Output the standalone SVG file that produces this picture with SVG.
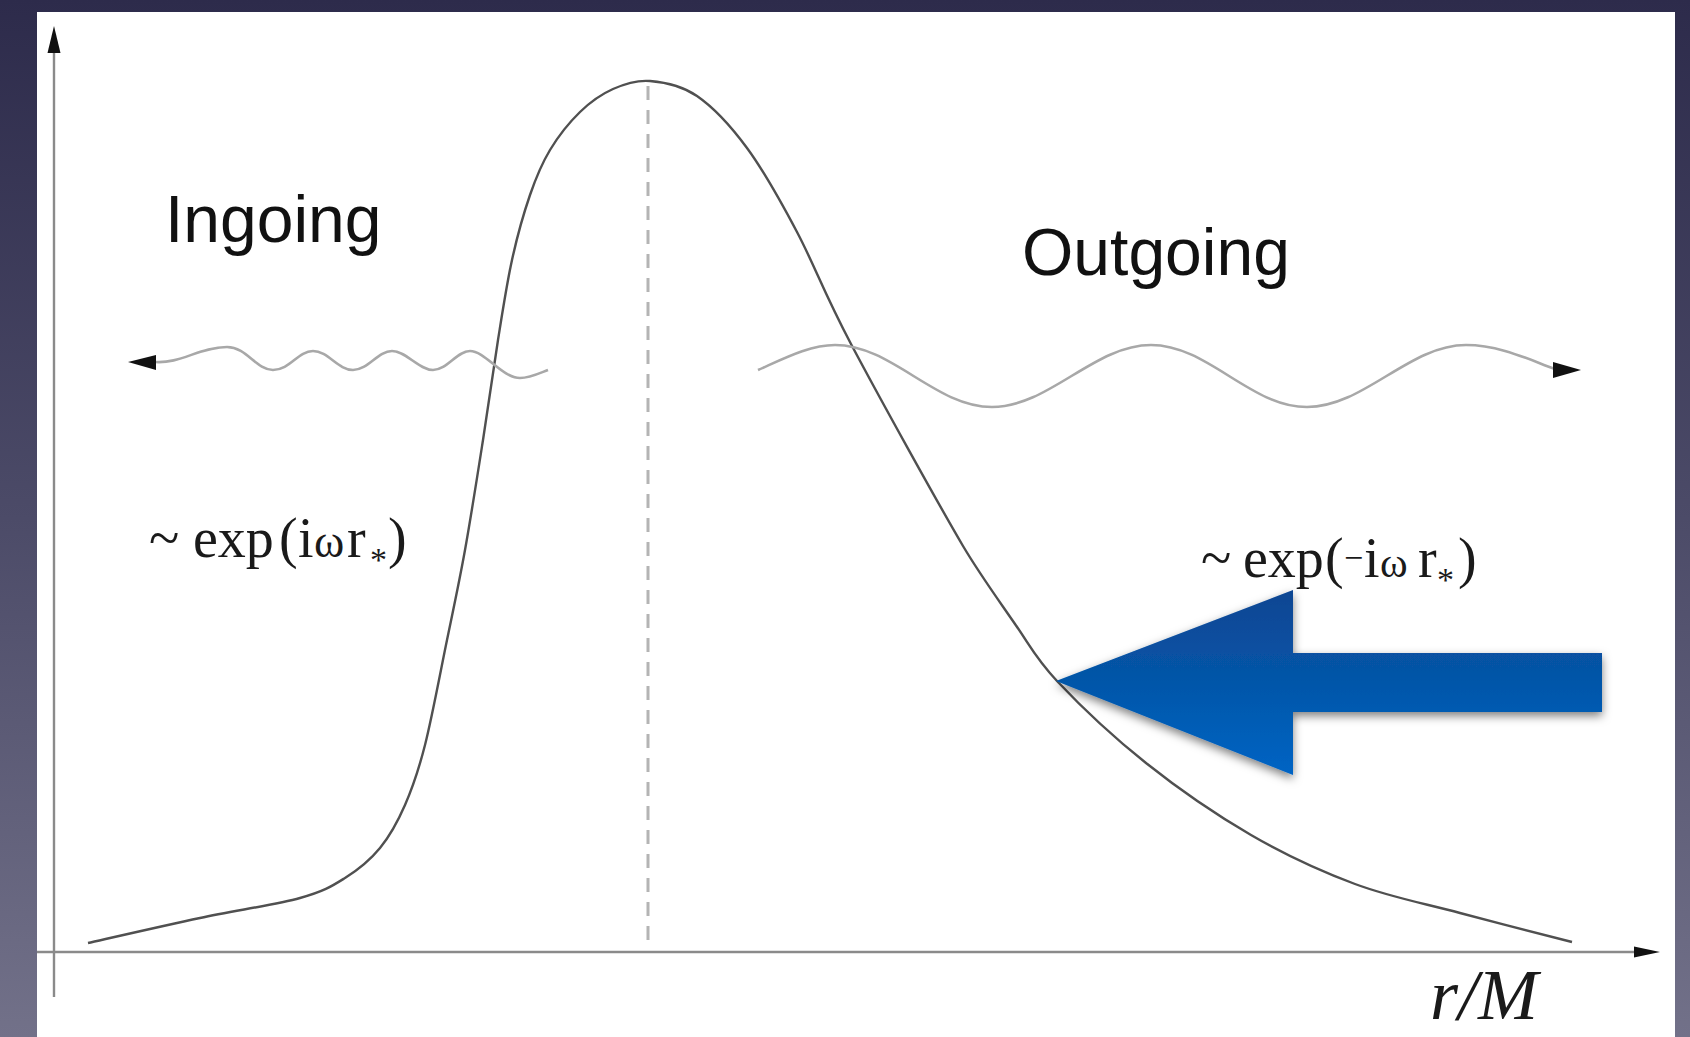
<svg xmlns="http://www.w3.org/2000/svg" width="1690" height="1037" viewBox="0 0 1690 1037">
  <defs>
    <linearGradient id="bg" x1="0" y1="0" x2="0" y2="1">
      <stop offset="0" stop-color="#2d2b4b"/>
      <stop offset="0.5" stop-color="#4c4b68"/>
      <stop offset="1" stop-color="#727189"/>
    </linearGradient>
    <linearGradient id="blue" x1="0" y1="590" x2="0" y2="775" gradientUnits="userSpaceOnUse">
      <stop offset="0" stop-color="#0b4592"/>
      <stop offset="0.5" stop-color="#0556a9"/>
      <stop offset="1" stop-color="#0064c4"/>
    </linearGradient>
    <filter id="shadow" x="-10%" y="-20%" width="120%" height="150%">
      <feDropShadow dx="0" dy="4" stdDeviation="5" flood-color="#000" flood-opacity="0.5"/>
    </filter>
    <style>
      .axis { stroke: #8a8a8a; stroke-width: 2.4; fill: none; }
      .head { fill: #111; }
      .curve { stroke: #505050; stroke-width: 2.4; fill: none; }
      .wave { stroke: #a8a8a8; stroke-width: 2.6; fill: none; }
      .dash { stroke: #b4b4b4; stroke-width: 3; stroke-dasharray: 14 10; fill: none; }
      .sans { font-family: "Liberation Sans", Arial, sans-serif; fill: #111; }
      .serif { font-family: "Liberation Serif", "Times New Roman", serif; fill: #1a1a1a; }
    </style>
  </defs>

  <rect x="0" y="0" width="1690" height="1037" fill="url(#bg)"/>
  <rect x="37" y="12" width="1638" height="1030" fill="#ffffff"/>

  <g id="axes">
    <line class="axis" x1="54" y1="50" x2="54" y2="997"/>
    <polygon class="head" points="54,26 47.5,53 60.5,53"/>
    <line class="axis" x1="37" y1="952" x2="1636" y2="952"/>
    <polygon class="head" points="1660,952 1634,946.5 1634,957.5"/>
  </g>

  <g id="peak-line">
    <line class="dash" x1="648" y1="86" x2="648" y2="945"/>
  </g>

  <g id="potential">
    <path class="curve" d="M 88 943 C 106.7 938.8, 164.7 925.5, 200 918 C 235.3 910.5, 275.8 904.7, 300 898 C 324.2 891.3, 331.7 886.3, 345 878 C 358.3 869.7, 370 860.2, 380 848 C 390 835.8, 397.5 822.2, 405 805 C 412.5 787.8, 418 772.5, 425 745 C 432 717.5, 440.3 672.5, 447 640 C 453.7 607.5, 459 583.3, 465 550 C 471 516.7, 477.5 475, 483 440 C 488.5 405, 493.2 370, 498 340 C 502.8 310, 506.7 284.2, 512 260 C 517.3 235.8, 523.7 213.3, 530 195 C 536.3 176.7, 541.7 163.8, 550 150 C 558.3 136.2, 569.5 122.2, 580 112 C 590.5 101.8, 601.3 94.2, 613 89 C 624.7 83.8, 636 79.8, 650 81 C 664 82.2, 680.8 84.8, 697 96 C 713.2 107.2, 730.3 125.3, 747 148 C 763.7 170.7, 779.7 199.3, 797 232 C 814.3 264.7, 823.3 291.7, 851 344 C 878.7 396.3, 935.7 499.3, 963 546 C 980.5 575.5, 1000 602, 1015 624 C 1030.7 646.5, 1035.2 657.8, 1057 681 C 1078.8 704.2, 1113.7 737.3, 1146 763 C 1178.3 788.7, 1216.2 814.8, 1251 835 C 1285.8 855.2, 1320.2 871, 1355 884 C 1389.8 897, 1423.8 903.3, 1460 913 C 1496.2 922.7, 1553.3 937.2, 1572 942"/>
  </g>

  <g id="ingoing-wave">
    <path class="wave" d="M 155 362 C 180 364, 200 347, 227 347 C 247 347, 256 370, 273 370 C 290 370, 298 351, 313 351 C 328 351, 338 370, 353 370 C 368 370, 378 351, 392 351 C 406 351, 419 370, 433 370 C 447 370, 457 351, 470 351 C 485 351, 502 378, 520 378 C 530 378, 540 373, 548 370"/>
    <polygon class="head" points="128,362 156,355 156,370"/>
  </g>

  <g id="outgoing-wave">
    <path class="wave" d="M 758 370 C 785 358, 810 345, 835 345 C 892 345, 935 407, 992 407 C 1049 407, 1094 345, 1151 345 C 1208 345, 1250 407, 1307 407 C 1364 407, 1409 345, 1466 345 C 1500 345, 1530 360, 1555 369"/>
    <polygon class="head" points="1581,370 1553,362 1553,378"/>
  </g>

  <g id="label-ingoing">
    <text class="sans" x="165" y="242" font-size="66">Ingoing</text>
  </g>
  <g id="label-outgoing">
    <text class="sans" x="1022" y="275" font-size="66">Outgoing</text>
  </g>

  <g id="formula-in">
    <text class="serif" font-size="56" y="557"><tspan x="149">~</tspan><tspan x="193">exp</tspan><tspan x="279">(</tspan><tspan x="298">i</tspan><tspan x="314" font-size="46">ω</tspan><tspan x="347">r</tspan><tspan x="370" y="571" font-size="34">*</tspan><tspan x="388" y="557">)</tspan></text>
  </g>
  <g id="formula-out">
    <text class="serif" font-size="56" y="577"><tspan x="1201">~</tspan><tspan x="1243">exp</tspan><tspan x="1325">(</tspan><tspan x="1344" y="569" font-size="34">−</tspan><tspan x="1364" y="577">i</tspan><tspan x="1380" font-size="42">ω</tspan><tspan x="1418">r</tspan><tspan x="1437" y="591" font-size="34">*</tspan><tspan x="1458" y="577">)</tspan></text>
  </g>

  <g id="axis-label">
    <text class="serif" x="1430" y="1019" font-size="72" font-style="italic">r/M</text>
  </g>

  <g id="blue-arrow">
    <polygon points="1056,681 1293,590 1293,653 1602,653 1602,712 1293,712 1293,775" fill="url(#blue)" filter="url(#shadow)"/>
  </g>
</svg>
